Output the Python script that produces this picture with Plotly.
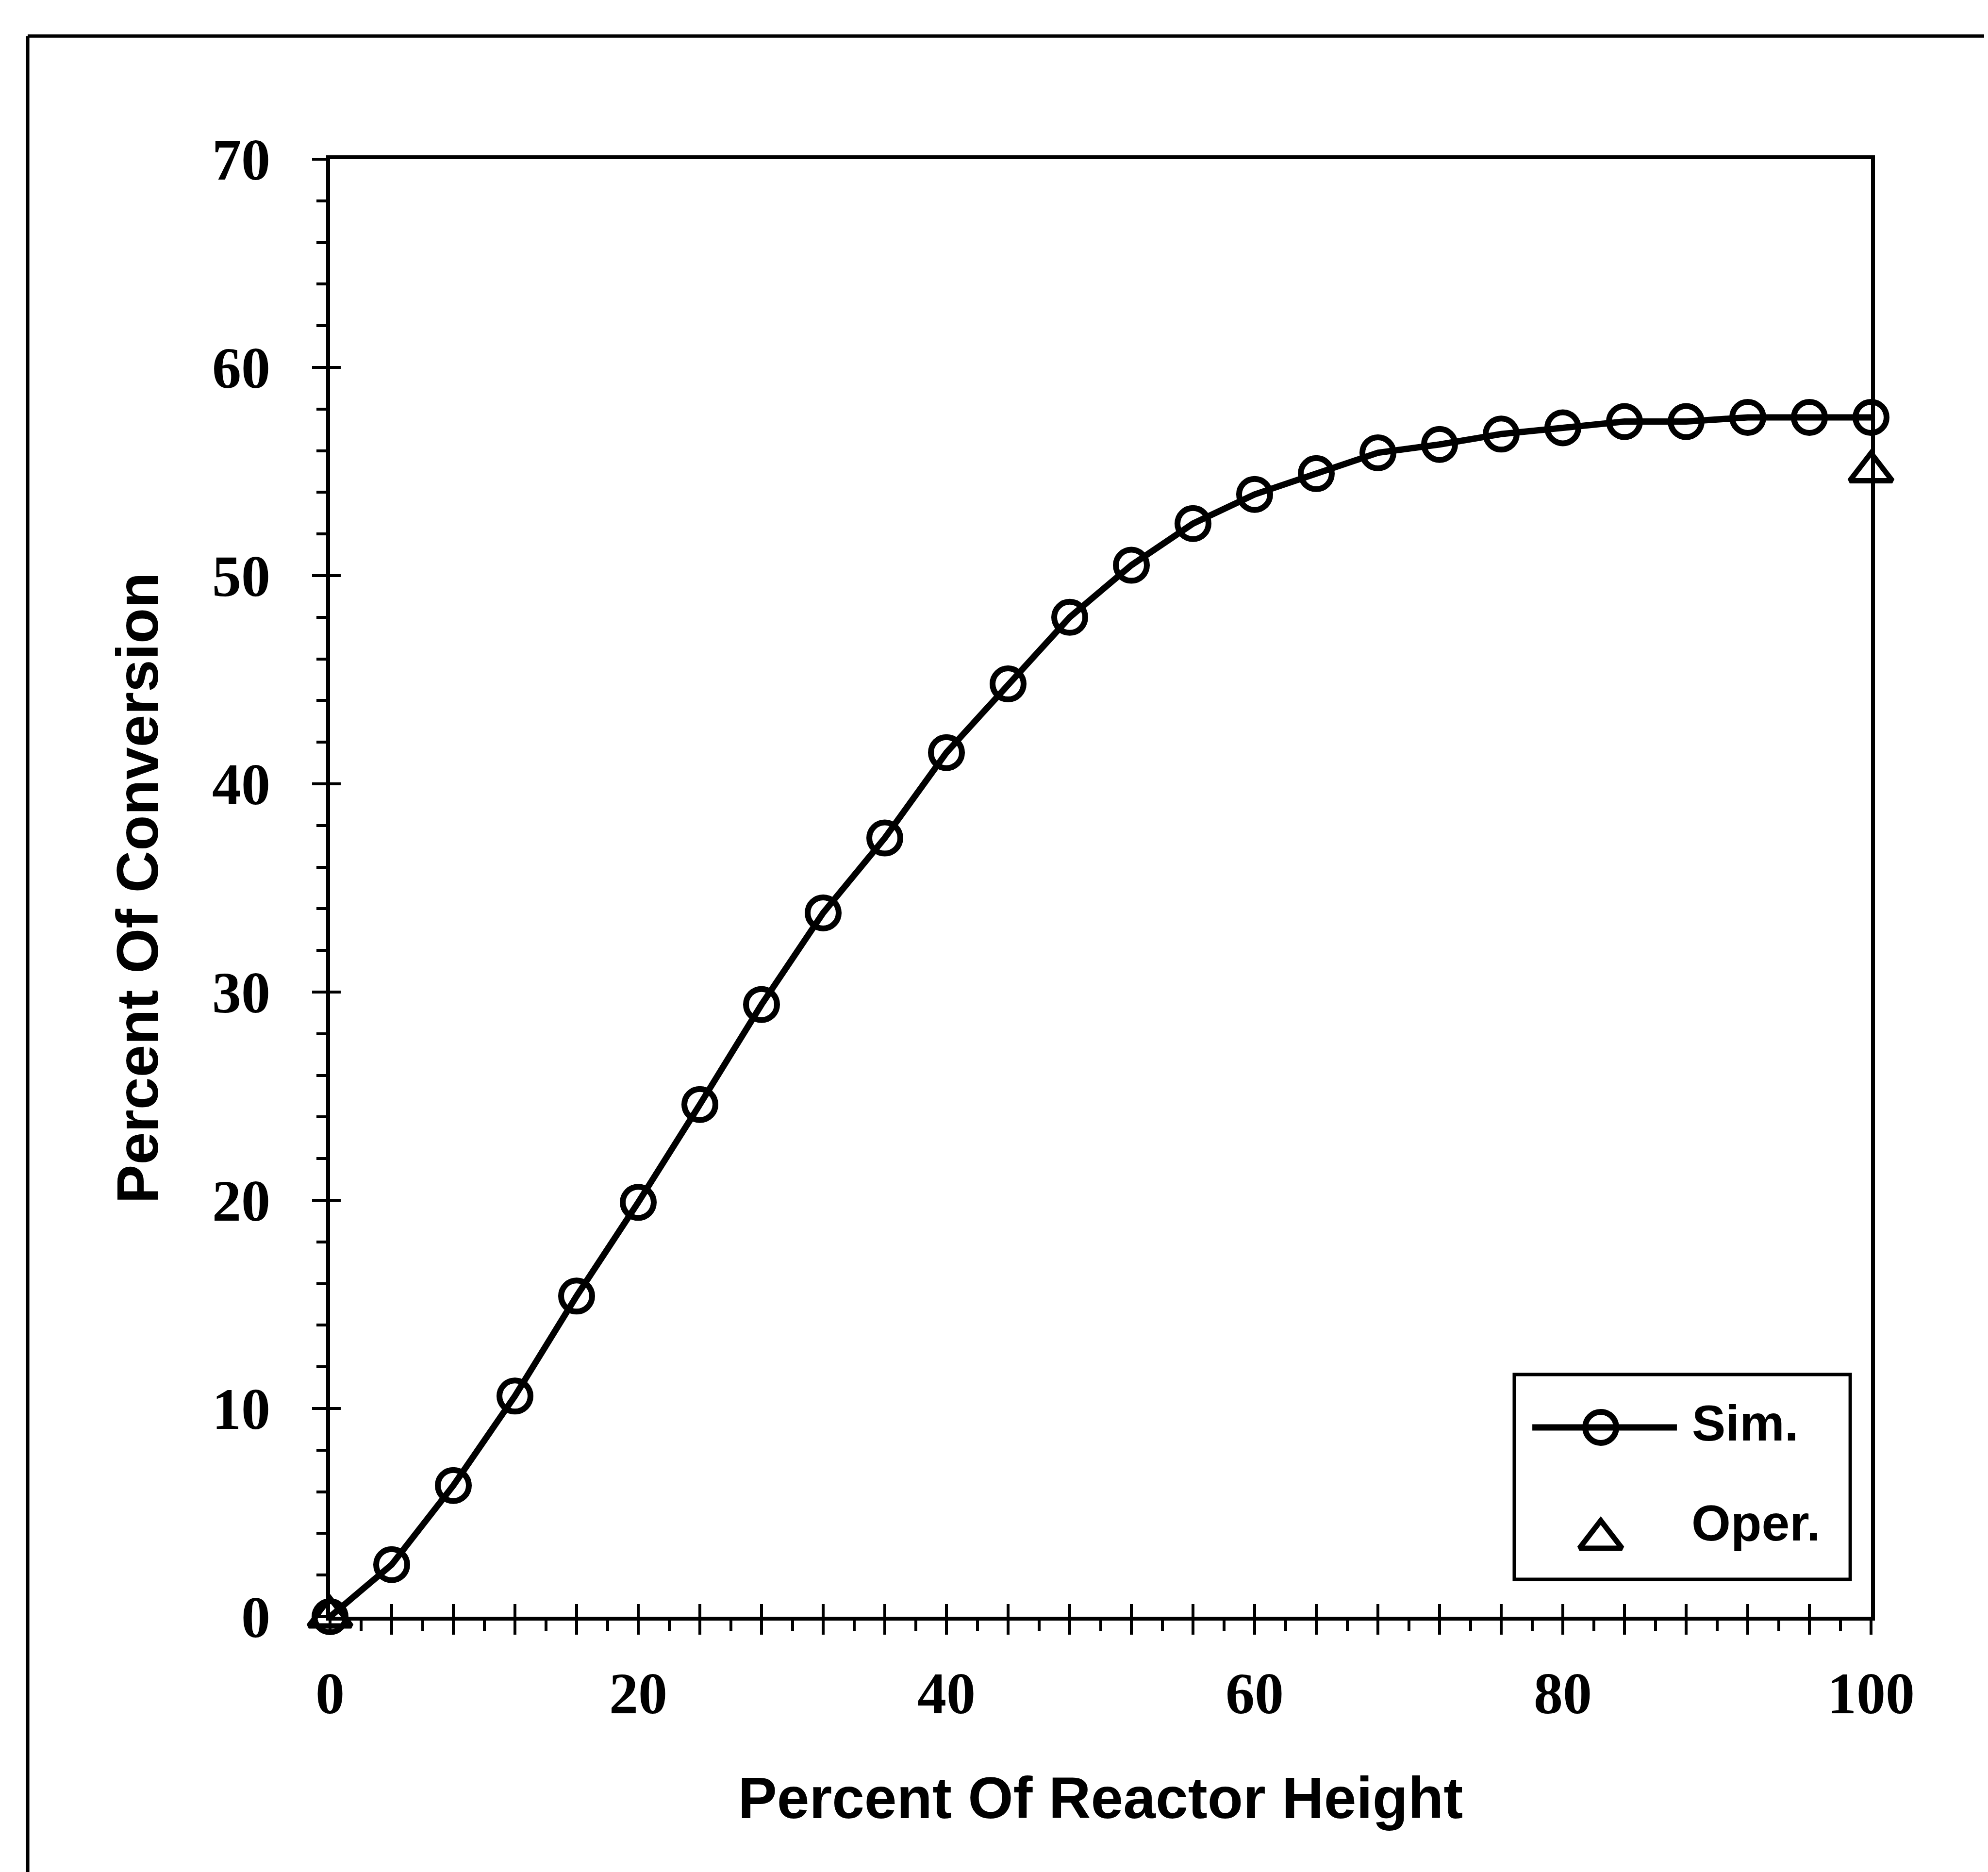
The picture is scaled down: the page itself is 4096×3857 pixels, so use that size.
import plotly.graph_objects as go

# ---------------- data ----------------
height_pct = [0, 4, 8, 12, 16, 20, 24, 28, 32, 36, 40, 44, 48, 52,
              56, 60, 64, 68, 72, 76, 80, 84, 88, 92, 96, 100]
sim_conv = [0.0, 2.5, 6.3, 10.6, 15.4, 19.9, 24.6, 29.4, 33.8, 37.4, 41.5, 44.8,
            48.0, 50.5, 52.5, 53.9, 54.9, 55.9, 56.3, 56.8, 57.1, 57.4, 57.4,
            57.6, 57.6, 57.6]
oper_height = [0, 100]
oper_conv = [0.0, 55.0]

x_tick_vals = list(range(0, 101, 4))
x_tick_text = [str(v) if v % 20 == 0 else "" for v in x_tick_vals]
y_tick_vals = list(range(0, 71, 10))
y_tick_text = [str(v) for v in y_tick_vals]

series_names = ["Sim.", "Oper."]
x_title = "Percent Of Reactor Height"
y_title = "Percent Of Conversion"

# ---------------- style ----------------
W, H = 4096, 3857
L, R, T, B = 672, 249, 320, 534
SERIF = "Liberation Serif"
SANS = "Liberation Sans"
AX_LW = 8
TICK_W = 6
DATA_LW = 13
MK_LW = 12

fig = go.Figure()

fig.add_trace(go.Scatter(
    x=height_pct, y=sim_conv, mode="lines+markers", name=series_names[0],
    line=dict(color="black", width=DATA_LW),
    marker=dict(symbol="circle-open", size=64, color="black", line=dict(width=MK_LW)),
    cliponaxis=False, showlegend=False))

fig.add_trace(go.Scatter(
    x=oper_height, y=oper_conv, mode="markers", name=series_names[1],
    marker=dict(symbol="triangle-up-open", size=76, color="black", line=dict(width=11)),
    cliponaxis=False, showlegend=False))

# empty trace so overlay tick axes are drawn
fig.add_trace(go.Scatter(x=[None], y=[None], xaxis="x2", yaxis="y2",
                         showlegend=False, hoverinfo="skip"))

# ---- hand-made legend (sample marks on a unit overlay axis) ----
leg_x = [0.8246]
leg_sim_y = [0.1299]
leg_oper_y = [0.0533]
fig.add_trace(go.Scatter(
    x=[0.7802, 0.8246, 0.8740], y=leg_sim_y * 3, xaxis="x3", yaxis="y3",
    mode="lines", line=dict(color="black", width=DATA_LW),
    showlegend=False, hoverinfo="skip", cliponaxis=False))
fig.add_trace(go.Scatter(
    x=leg_x, y=leg_sim_y, xaxis="x3", yaxis="y3", mode="markers",
    marker=dict(symbol="circle-open", size=64, color="black", line=dict(width=MK_LW)),
    showlegend=False, hoverinfo="skip", cliponaxis=False))
fig.add_trace(go.Scatter(
    x=leg_x, y=leg_oper_y, xaxis="x3", yaxis="y3", mode="markers",
    marker=dict(symbol="triangle-up-open", size=76, color="black", line=dict(width=11)),
    showlegend=False, hoverinfo="skip", cliponaxis=False))

fig.add_shape(type="rect", xref="paper", yref="paper",
              x0=0.7685, x1=0.9865, y0=0.0256, y1=0.1662,
              line=dict(color="black", width=7), fillcolor="rgba(0,0,0,0)")
fig.add_annotation(x=0.8831, y=0.1330, xref="paper", yref="paper",
                   text=series_names[0], showarrow=False, xanchor="left", yanchor="middle",
                   font=dict(family=SANS, size=104, color="black", weight="bold"))
fig.add_annotation(x=0.8828, y=0.0643, xref="paper", yref="paper",
                   text=series_names[1], showarrow=False, xanchor="left", yanchor="middle",
                   font=dict(family=SANS, size=104, color="black", weight="bold"))

# outer frame (left and top edges of the scanned page frame)
fig.add_shape(type="line", xref="paper", yref="paper",
              x0=-0.1962, x1=-0.1962, y0=-0.25, y1=1.0845,
              line=dict(color="black", width=7))
fig.add_shape(type="line", xref="paper", yref="paper",
              x0=-0.1962, x1=1.2, y0=1.0845, y1=1.0845,
              line=dict(color="black", width=7))

tickfont = dict(family=SERIF, size=120, color="black", weight="bold")
titlefont = dict(family=SANS, size=120, color="black", weight="bold")

fig.update_layout(
    width=W, height=H,
    margin=dict(l=L, r=R, t=T, b=B, pad=0),
    paper_bgcolor="white", plot_bgcolor="rgba(0,0,0,0)",
    showlegend=False,
    xaxis=dict(
        range=[0, 100], tickmode="array", tickvals=x_tick_vals, ticktext=x_tick_text,
        ticks="outside", ticklen=29, tickwidth=TICK_W, tickcolor="black",
        showline=True, linewidth=AX_LW, linecolor="black", mirror=True,
        showgrid=False, zeroline=False, tickfont=tickfont, ticklabelstandoff=18,
        minor=dict(tickmode="linear", tick0=0, dtick=2, ticks="outside",
                   ticklen=21, tickwidth=TICK_W, tickcolor="black", showgrid=False),
        title=dict(text=x_title, font=titlefont, standoff=110),
    ),
    yaxis=dict(
        range=[0, 70], tickmode="array", tickvals=y_tick_vals, ticktext=y_tick_text,
        ticks="outside", ticklen=29, tickwidth=TICK_W, tickcolor="black",
        showline=True, linewidth=AX_LW, linecolor="black", mirror=True,
        showgrid=False, zeroline=False, tickfont=tickfont, ticklabelstandoff=62,
        minor=dict(tickmode="linear", tick0=0, dtick=2, ticks="outside",
                   ticklen=20, tickwidth=TICK_W, tickcolor="black", showgrid=False),
        title=dict(text=y_title, font=titlefont, standoff=74),
    ),
    xaxis2=dict(
        overlaying="x", anchor="y", side="bottom", range=[0, 100],
        tickmode="array", tickvals=x_tick_vals, ticks="inside", ticklen=26,
        tickwidth=TICK_W, tickcolor="black", showticklabels=False,
        showline=False, showgrid=False, zeroline=False,
    ),
    yaxis2=dict(
        overlaying="y", anchor="x", side="left", range=[0, 70],
        tickmode="array", tickvals=y_tick_vals, ticks="inside", ticklen=22,
        tickwidth=TICK_W, tickcolor="black", showticklabels=False,
        showline=False, showgrid=False, zeroline=False,
    ),
    xaxis3=dict(overlaying="x", anchor="y3", range=[0, 1], visible=False),
    yaxis3=dict(overlaying="y", anchor="x3", range=[0, 1], visible=False),
)

fig.write_html("out.html")
